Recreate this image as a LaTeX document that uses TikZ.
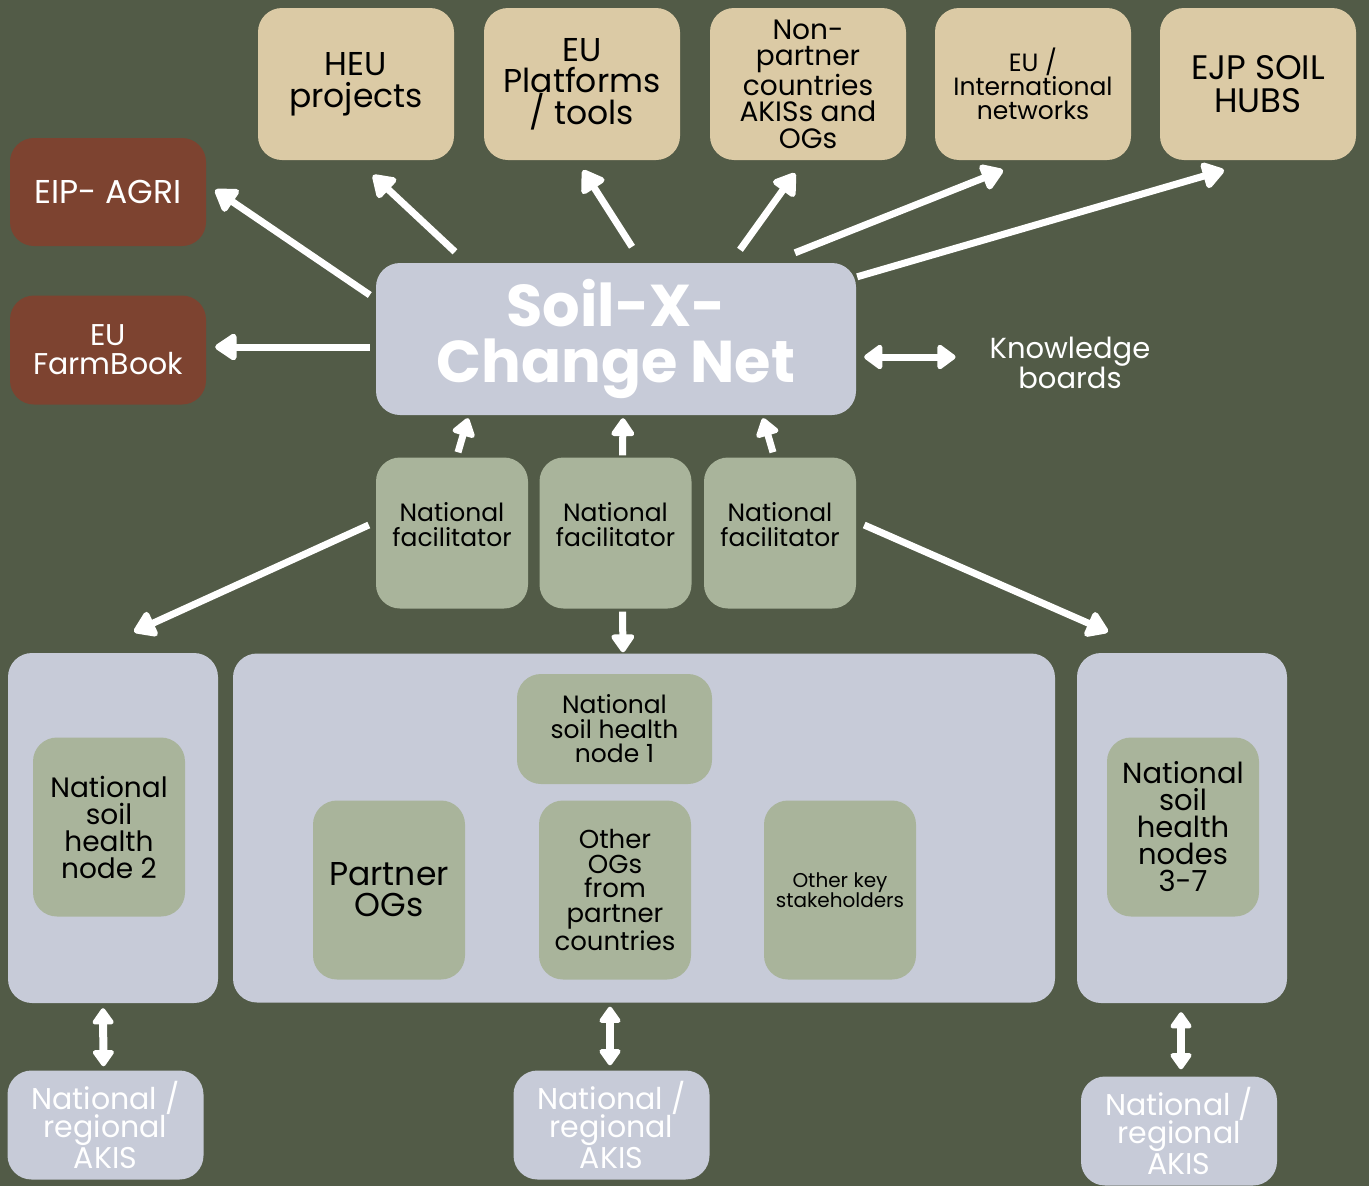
\documentclass[tikz,border=0pt]{standalone}
\usepackage{fontspec}
\setmainfont{Poppins}
\usetikzlibrary{arrows.meta,calc}

\definecolor{olivebg}{HTML}{525B47}
\definecolor{tanfill}{HTML}{DBCAA5}
\definecolor{brownfill}{HTML}{7D4330}
\definecolor{greyfill}{HTML}{C7CBD8}
\definecolor{sagefill}{HTML}{A9B49B}

\begin{document}
\begin{tikzpicture}[x=1pt,y=-1pt]
  \tikzstyle{box} = [rounded corners=24pt, inner sep=0pt, align=center]
  \tikzstyle{tanbox} = [box, fill=tanfill, text=black, minimum width=196pt, minimum height=152pt]
  \tikzstyle{brownbox} = [box, fill=brownfill, text=white, minimum width=196pt, minimum height=108pt]
  \tikzstyle{greybox} = [box, fill=greyfill]
  \tikzstyle{sagebox} = [box, fill=sagefill, text=black, minimum width=152pt, minimum height=179pt]
  \tikzstyle{akisbox} = [box, fill=greyfill, text=white, minimum width=196pt, minimum height=109pt,
                         font=\fontsize{30}{28}\selectfont]
  \tikzstyle{pointer} = [-{Triangle[width=30pt,length=24pt,round]}, line width=7pt, white]
  \tikzstyle{twoway} = [{Triangle[width=24pt,length=18pt,round]}-{Triangle[width=24pt,length=18pt,round]},
                        line width=8pt, white]

  \fill[olivebg] (0,0) rectangle (1369,1186);
  \useasboundingbox (0,0) rectangle (1369,1186);

  % top row
  \node[tanbox, font=\fontsize{33}{32}\selectfont] (heu) at (356,84) {HEU\\projects};
  \node[tanbox, font=\fontsize{33}{31}\selectfont] (platforms) at (582,84) {EU\\Platforms\\/ tools};
  \node[tanbox, font=\fontsize{28}{26.5}\selectfont] (nonpartner) at (808,84) {Non-\\partner\\countries\\AKISs and\\OGs};
  \node[tanbox, font=\fontsize{25}{24}\selectfont] (intnet) at (1033,84) {EU /\\International\\networks};
  \node[tanbox, font=\fontsize{34}{33}\selectfont] (ejp) at (1258,84) {EJP SOIL\\HUBS};

  \node[brownbox, font=\fontsize{33}{32}\selectfont] (eip) at (108,192) {EIP- AGRI};
  \node[brownbox, font=\fontsize{30}{29}\selectfont, minimum height=109pt] (farmbook) at (108,350) {EU\\FarmBook};

  % centre
  \node[greybox, text=white, minimum width=480pt, minimum height=152pt,
        font=\fontsize{59}{56}\selectfont\bfseries] (sxc) at (616,339) {Soil-X-\\Change Net};
  \node[text=white, align=center, inner sep=0pt, font=\fontsize{29}{28}\selectfont] (knowledge) at (1070,363) {Knowledge\\boards};

  \node[sagebox, minimum height=151pt, font=\fontsize{25}{25}\selectfont] (fac1) at (452,533) {National\\facilitator\\[-7pt]};
  \node[sagebox, minimum height=151pt, font=\fontsize{25}{25}\selectfont] (fac2) at (615.5,533) {National\\facilitator\\[-7pt]};
  \node[sagebox, minimum height=151pt, font=\fontsize{25}{25}\selectfont] (fac3) at (780,533) {National\\facilitator\\[-7pt]};

  % lower containers
  \node[greybox, minimum width=210pt, minimum height=350pt] (leftbox) at (113,828) {};
  \node[greybox, minimum width=822pt, minimum height=349pt] (midbox) at (644,828) {};
  \node[greybox, minimum width=210pt, minimum height=350pt] (rightbox) at (1182,828) {};

  \node[sagebox, font=\fontsize{28}{27}\selectfont] (nsh2) at (109,827) {National\\soil\\health\\node 2};
  \node[sagebox, minimum width=195pt, minimum height=110pt, font=\fontsize{25}{24.5}\selectfont] (nsh1) at (614.5,729) {National\\soil health\\node 1};
  \node[sagebox, font=\fontsize{33}{31}\selectfont] (partner) at (389,890) {Partner\\OGs};
  \node[sagebox, font=\fontsize{26}{24.5}\selectfont] (otherogs) at (615,890) {Other\\OGs\\from\\partner\\countries};
  \node[sagebox, font=\fontsize{20}{20}\selectfont] (stake) at (840,890) {Other key\\stakeholders};
  \node[sagebox, font=\fontsize{29}{27}\selectfont] (nsh37) at (1183,827) {National\\soil\\health\\nodes\\3-7};

  \node[akisbox] (akis1) at (105.5,1125) {National /\\regional\\AKIS};
  \node[akisbox] (akis2) at (611.5,1125) {National /\\regional\\AKIS};
  \node[akisbox] (akis3) at (1179,1131) {National /\\regional\\AKIS};

  % outgoing links
  \draw[pointer] ($(sxc.west)+(-6,-44)$) -- ($(eip.east)+(9,-2)$);
  \draw[pointer] ($(sxc.west)+(-6,8)$) -- ($(farmbook.east)+(9,-3)$);
  \draw[pointer] ($(sxc.north)+(-161,-11)$) -- ($(heu.south)+(17,15)$);
  \draw[pointer] ($(sxc.north)+(16,-16)$) -- ($(platforms.south)+(1,10)$);
  \draw[pointer] ($(sxc.north)+(124,-13)$) -- ($(nonpartner.south)+(-13,13)$);
  \draw[pointer] ($(sxc.north)+(179,-10)$) -- ($(intnet.south)+(-30,10)$);
  \draw[pointer] ($(sxc.north east)+(1,14)$) -- ($(ejp.south)+(-34,10)$);
  \draw[twoway, {Triangle[width=28pt,length=20pt,round]}-{Triangle[width=28pt,length=20pt,round]}, line width=7pt]
    ($(sxc.east)+(8,18)$) -- ($(knowledge.west)+(-34,-6)$);

  % facilitators
  \draw[pointer, -{Triangle[width=26pt,length=20pt,round]}] ($(fac1.north)+(6,-5)$) -- ($(sxc.south)+(-148,3)$);
  \draw[pointer, -{Triangle[width=26pt,length=20pt,round]}] ($(fac2.north)+(7,-2)$) -- ($(sxc.south)+(7,3)$);
  \draw[pointer, -{Triangle[width=26pt,length=20pt,round]}] ($(fac3.north)+(-7,-5)$) -- ($(sxc.south)+(147,3)$);
  \draw[pointer] ($(fac1.west)+(-7,-8)$) -- ($(leftbox.north)+(21,-21)$);
  \draw[pointer, -{Triangle[width=26pt,length=20pt,round]}] ($(fac2.south)+(7,3)$) -- ($(midbox.north)+(-21,-1)$);
  \draw[pointer] ($(fac3.east)+(8,-8)$) -- ($(rightbox.north)+(-74,-21)$);

  % AKIS links
  \draw[twoway] ($(leftbox.south)+(-10,5)$) -- ($(akis1.north)+(-2,-4)$);
  \draw[twoway] ($(midbox.south)+(-34,4)$) -- ($(akis2.north)+(-1.5,-5)$);
  \draw[twoway] ($(rightbox.south)+(-1,9)$) -- ($(akis3.north)+(2,-7)$);
\end{tikzpicture}
\end{document}
